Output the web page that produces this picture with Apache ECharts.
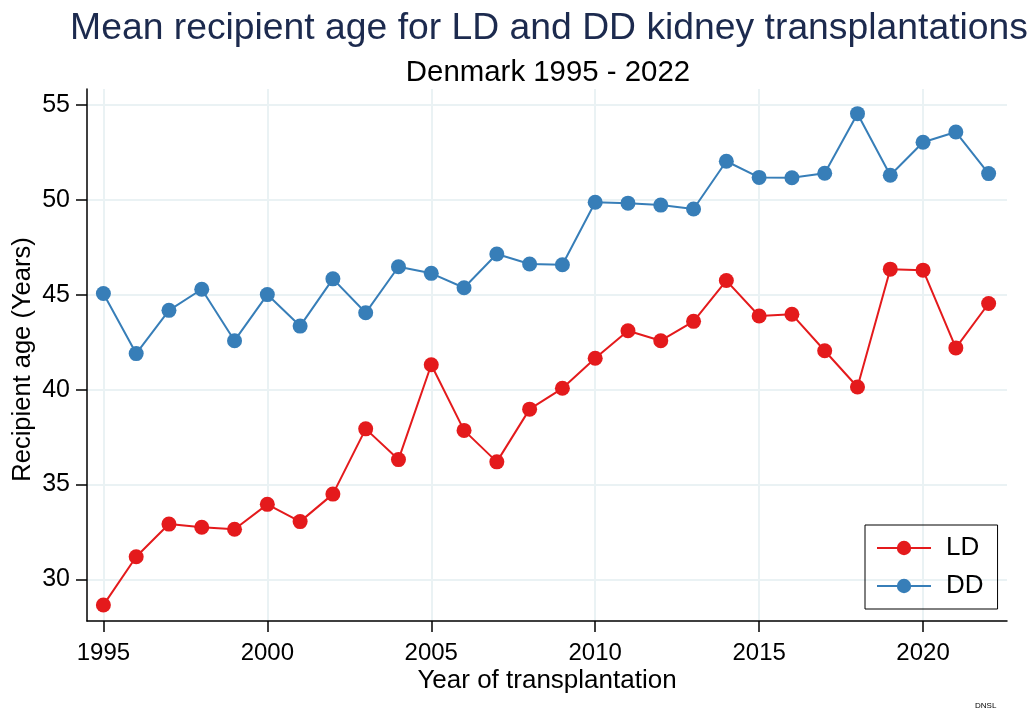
<!DOCTYPE html>
<html>
<head>
<meta charset="utf-8">
<title>Mean recipient age</title>
<script src="https://cdn.jsdelivr.net/npm/echarts@6/dist/echarts.min.js"></script>
<style>
  html, body { margin: 0; padding: 0; background: #fff; }
  #chart { width: 1031px; height: 715px; }
</style>
</head>
<body>
<div id="chart"></div>
<script>
  // data
  var years = [1995, 1996, 1997, 1998, 1999, 2000, 2001, 2002, 2003, 2004, 2005, 2006, 2007, 2008,
               2009, 2010, 2011, 2012, 2013, 2014, 2015, 2016, 2017, 2018, 2019, 2020, 2021, 2022];
  var ldAge = [28.64, 31.19, 32.91, 32.74, 32.64, 33.95, 33.04, 34.49, 37.93, 36.31, 41.31, 37.85, 36.19, 38.97,
               40.07, 41.65, 43.10, 42.58, 43.60, 45.75, 43.88, 43.97, 42.05, 40.14, 46.35, 46.30, 42.20, 44.54];
  var ddAge = [45.07, 41.90, 44.18, 45.29, 42.58, 45.01, 43.35, 45.84, 44.05, 46.48, 46.13, 45.37, 47.15, 46.62,
               46.58, 49.88, 49.83, 49.73, 49.52, 52.04, 51.19, 51.17, 51.41, 54.55, 51.30, 53.04, 53.58, 51.39];
  var xTicks = [1995, 2000, 2005, 2010, 2015, 2020];
  var yTicks = [30, 35, 40, 45, 50, 55];

  var FONT = 'Liberation Sans, Arial, sans-serif';

  function pairs(vals) {
    var out = [];
    for (var i = 0; i < years.length; i++) out.push([years[i], vals[i]]);
    return out;
  }

  var chart = echarts.init(document.getElementById('chart'));
  chart.setOption({
    animation: false,
    backgroundColor: '#fff',
    textStyle: { fontFamily: FONT },
    title: [
      {
        text: 'Mean recipient age for LD and DD kidney transplantations',
        left: 544, top: 5, textAlign: 'center',
        textStyle: { fontFamily: FONT, fontSize: 37.3, fontWeight: 'normal', color: '#1c2a4e' }
      },
      {
        text: 'Denmark 1995 - 2022',
        left: 543, top: 53, textAlign: 'center',
        textStyle: { fontFamily: FONT, fontSize: 29.4, fontWeight: 'normal', color: '#000' }
      }
    ],
    legend: {
      orient: 'vertical',
      left: 865, top: 525,
      padding: [9, 14, 9, 11],
      itemWidth: 54, itemHeight: 18, itemGap: 10,
      borderColor: '#000', borderWidth: 1,
      textStyle: { fontFamily: FONT, fontSize: 26, color: '#000', lineHeight: 28, padding: [0, 0, 0, 10] },
      data: ['LD', 'DD']
    },
    grid: { left: 87, right: 24, top: 89, bottom: 94, outerBoundsMode: 'none', containLabel: false },
    xAxis: {
      type: 'value',
      min: 1994.5, max: 2022.56,
      name: 'Year of transplantation',
      nameLocation: 'middle', nameGap: 47, nameMoveOverlap: false,
      nameTextStyle: { fontFamily: FONT, fontSize: 26, color: '#000' },
      axisLine: { show: true, onZero: false, lineStyle: { color: '#000', width: 1.5 } },
      axisTick: { show: true, length: 11, customValues: xTicks, lineStyle: { color: '#000', width: 1.5 } },
      axisLabel: {
        customValues: xTicks, fontFamily: FONT, fontSize: 24, color: '#000', margin: 20,
        formatter: function (v) { return String(v); }
      },
      splitLine: { show: true, lineStyle: { color: '#eaf2f4', width: 2 } }
    },
    yAxis: {
      type: 'value',
      min: 27.8, max: 55.85,
      name: 'Recipient age (Years)',
      nameLocation: 'middle', nameGap: 51, nameMoveOverlap: false,
      nameTextStyle: { fontFamily: FONT, fontSize: 25.5, color: '#000', padding: [0, 9, 0, 0] },
      axisLine: { show: true, onZero: false, lineStyle: { color: '#000', width: 1.5 } },
      axisTick: { show: true, length: 11, customValues: yTicks, lineStyle: { color: '#000', width: 1.5 } },
      axisLabel: { customValues: yTicks, fontFamily: FONT, fontSize: 25, color: '#000', margin: 17 },
      splitLine: { show: true, lineStyle: { color: '#eaf2f4', width: 2 } }
    },
    graphic: [
      {
        type: 'text', left: 975, top: 702,
        style: { text: 'DNSL', fontFamily: FONT, fontSize: 8, fill: '#000' }
      }
    ],
    series: [
      {
        name: 'LD', type: 'line',
        data: pairs(ldAge),
        symbol: 'circle', symbolSize: 15,
        color: '#e41a1c',
        lineStyle: { width: 2, color: '#e41a1c' },
        itemStyle: { color: '#e41a1c' }
      },
      {
        name: 'DD', type: 'line',
        data: pairs(ddAge),
        symbol: 'circle', symbolSize: 15,
        color: '#377eb8',
        lineStyle: { width: 2, color: '#377eb8' },
        itemStyle: { color: '#377eb8' }
      }
    ]
  });
</script>
</body>
</html>
